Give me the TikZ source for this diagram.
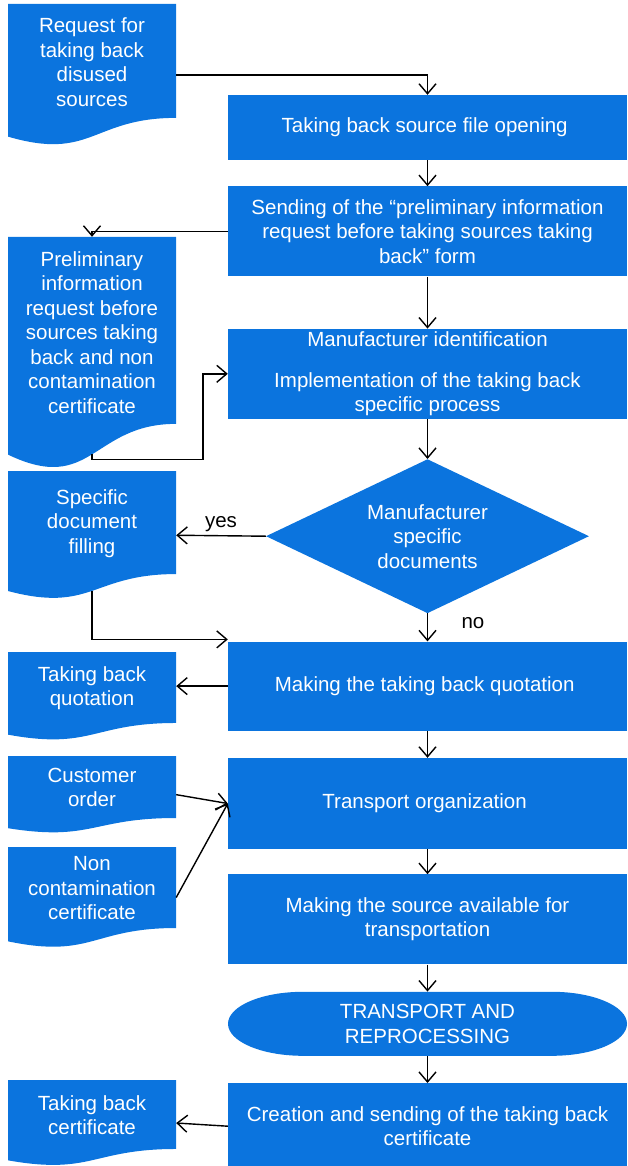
\documentclass[tikz,border=0pt]{standalone}
\usepackage{fontspec}
\setmainfont{Liberation Sans}
\usetikzlibrary{arrows.meta,positioning,shapes.geometric,calc}
\definecolor{flowblue}{RGB}{11,116,222}

\begin{document}
\begin{tikzpicture}[
    x=1pt, y=-1pt,
    font=\fontsize{20.5}{24.5}\selectfont,
    stepbox/.style={
        rectangle,
        fill=flowblue,
        text=white,
        minimum width=399pt,
        inner sep=0pt,
        align=center
    },
    decision/.style={
        diamond,
        aspect=2.1,
        fill=flowblue,
        text=white,
        minimum width=323pt,
        minimum height=154pt,
        inner sep=0pt,
        align=center
    },
    terminal/.style={
        rectangle,
        text=white,
        minimum width=399pt,
        minimum height=64pt,
        inner sep=0pt,
        align=center,
        path picture={
            \fill[flowblue]
                let \p1=(path picture bounding box.north west),
                    \p2=(path picture bounding box.south east) in
                ({\x1+75pt},\y1) -- ({\x2-75pt},\y1)
                arc[start angle=90, end angle=-90, x radius=75pt, y radius=32pt]
                -- ({\x1+75pt},\y2)
                arc[start angle=270, end angle=90, x radius=75pt, y radius=32pt]
                -- cycle;
        }
    },
    doc/.style={
        rectangle,
        inner sep=0pt,
        minimum width=168pt,
        minimum height=#1,
        path picture={
            \fill[flowblue]
                let \p1=(path picture bounding box.north west),
                    \p2=(path picture bounding box.south east) in
                (\x1,\y1) -- (\x2,\y1)
                -- (\x2,{\y1+0.802*(\y2-\y1)})
                .. controls ({0.5*(\x1+\x2)},{\y1+0.802*(\y2-\y1)})
                and ({0.5*(\x1+\x2)},{\y1+1.107*(\y2-\y1)})
                .. (\x1,{\y1+0.934*(\y2-\y1)}) -- cycle;
        }
    },
    doctext/.style={
        text=white,
        align=center
    },
    flow/.style={
        -{Straight Barb[length=10pt,width=17pt]},
        line width=1.4pt
    }
]

\useasboundingbox (0,0) rectangle (627,1166);

\node[stepbox, minimum height=65pt] (fileopen) at (427.5,127.5) {
    Taking back source file opening
};

\node[stepbox, minimum height=90pt, below=26pt of fileopen] (sendform) {
    Sending of the “preliminary information\\
    request before taking sources taking\\
    back” form
};

\node[stepbox, minimum height=90pt, below=52pt of sendform] (manuf) {
    Manufacturer identification\\[16pt]
    Implementation of the taking back\\
    specific process
};

\node[decision, below=40pt of manuf] (decide) {
    Manufacturer\\
    specific\\
    documents
};

\node[stepbox, minimum height=89pt, below=28pt of decide] (quotation) {
    Making the taking back quotation
};

\node[stepbox, minimum height=91pt, below=27pt of quotation] (transport) {
    Transport organization
};

\node[stepbox, minimum height=90pt, below=25pt of transport] (available) {
    Making the source available for\\
    transportation
};

\node[terminal, below=27pt of available] (reproc) {
    TRANSPORT AND\\
    REPROCESSING
};

\node[stepbox, minimum height=86pt, below=27pt of reproc] (certif) {
    Creation and sending of the taking back\\
    certificate
};

\node[doc=142pt, label={[doctext, yshift=12.8pt]center:{Request for\\taking back\\disused\\sources}}] (request) at (92,75) {};

\node[doc=233pt, label={[doctext, yshift=21pt]center:{Preliminary\\information\\request before\\sources taking\\back and non\\contamination\\certificate}}] (prelim) at (92,353.5) {};

\node[doc=128.5pt, label={[doctext, yshift=11.6pt]center:{Specific\\document\\filling}}] (specdoc) at (92,535.25) {};

\node[doc=88.5pt, label={[doctext, yshift=8pt]center:{Taking back\\quotation}}] (quotedoc) at (92,696.25) {};

\node[doc=77.3pt, label={[doctext, yshift=7pt]center:{Customer\\order}}] (order) at (92,794.65) {};

\node[doc=101pt, label={[doctext, yshift=9.1pt]center:{Non\\contamination\\certificate}}] (noncont) at (92,897.5) {};

\node[doc=86pt, label={[doctext, yshift=7.7pt]center:{Taking back\\certificate}}] (certdoc) at (92,1123) {};

\coordinate (prelimfoot) at ($(prelim.north)!0.93!(prelim.south)$);
\coordinate (specfoot) at ($(specdoc.north)!0.93!(specdoc.south)$);

\draw[flow] (request.east) -| (fileopen.north);
\draw[flow] (fileopen) -- (sendform);
\draw[flow] (sendform.west) -| (prelim.north);
\draw[flow] (sendform) -- (manuf);
\draw[flow] (prelimfoot) -- ++(0,5.5) -| ([xshift=-25pt]manuf.west) -- (manuf.west);
\draw[flow] (manuf) -- (decide);
\draw[flow] (decide.west) -- node[above] {yes} (specdoc.east);
\draw[flow] (decide) -- node[pos=0.35, right=30pt] {no} (quotation);
\draw[flow] (specfoot) |- ([yshift=2pt]quotation.north west);
\draw[flow] (quotation.west) -- (quotation.west -| quotedoc.east);
\draw[flow] (quotation) -- (transport);
\draw[flow] (order.east) -- (transport.west);
\draw[flow] (noncont.east) -- (transport.west);
\draw[flow] (transport) -- (available);
\draw[flow] (available) -- (reproc);
\draw[flow] (reproc) -- (certif);
\draw[flow] (certif.west) -- (certdoc.east);

\end{tikzpicture}
\end{document}
